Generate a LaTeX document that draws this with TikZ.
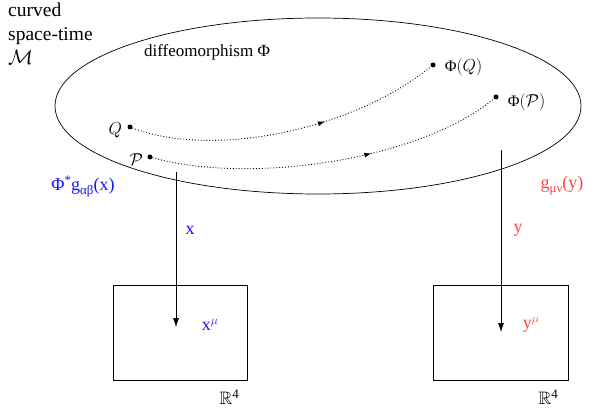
\documentclass[tikz,border=0pt]{standalone}
\usepackage{amsmath}
\usepackage{amssymb}
\usepackage{fontspec}
\setmainfont{Liberation Serif}
\usetikzlibrary{decorations.markings,arrows.meta}
\definecolor{myblue}{RGB}{20,20,255}
\definecolor{myred}{RGB}{255,70,70}
\newcommand{\mysub}[1]{\raisebox{-4pt}{\fontsize{13}{13}\selectfont #1}}
\newcommand{\mysup}[1]{\raisebox{6pt}{\fontsize{13}{13}\selectfont #1}}
\tikzset{
  pt/.style={circle,fill=black,inner sep=0pt,minimum size=5pt},
  lbl/.style={inner sep=1pt,font=\fontsize{16}{19}\selectfont},
  clbl/.style={inner sep=1pt,font=\fontsize{18}{21}\selectfont},
  mapline/.style={-{Latex[length=9pt,width=6pt]},line width=0.6pt},
  flow/.style={dotted,line width=0.9pt,postaction={decorate},
    decoration={markings,mark=at position 0.62 with {\arrow{Latex[length=7pt,width=5pt]}}}},
  box/.style={draw,line width=0.6pt}
}
\begin{document}
\begin{tikzpicture}[x=1pt,y=-1pt]
\useasboundingbox (0,0) rectangle (599,409);
% manifold
\draw[line width=0.7pt] (318,106) ellipse [x radius=263, y radius=88];
\node[anchor=north west,align=left,inner sep=0pt,font=\fontsize{19.5}{24}\selectfont] (title) at (8,3) {curved\\space-time\\$\mathcal{M}$};
\node[lbl,font=\fontsize{17}{20}\selectfont] (diff) at (207,52) {diffeomorphism Φ};
% points
\node[pt] (Q) at (130,127) {};
\node[pt] (P) at (150,157) {};
\node[pt] (PQ) at (433,65) {};
\node[pt] (PP) at (496,97) {};
\node[lbl,anchor=east] (Ql) at (Q.west) [xshift=-4pt,yshift=-3pt] {$Q$};
\node[lbl,anchor=east] (Pl) at (P.west) [xshift=-3pt,yshift=-3pt] {$\mathcal{P}$};
\node[lbl,anchor=west] (PQl) at (PQ.east) [xshift=8pt,yshift=-2pt] {Φ$(Q)$};
\node[lbl,anchor=west] (PPl) at (PP.east) [xshift=8pt,yshift=-5pt] {Φ$(\mathcal{P})$};
\draw[flow] (Q) .. controls (210,158) and (350,132) .. (PQ);
\draw[flow] (P) .. controls (250,185) and (420,160) .. (PP);
% charts
\node[box,minimum width=134pt,minimum height=95pt] (B1) at (180,332.5) {};
\node[box,minimum width=135pt,minimum height=95pt] (B2) at (500.5,332.5) {};
\coordinate (a1) at (176,172);
\coordinate (a1e) at (176,327);
\coordinate (a2) at (501,150);
\coordinate (a2e) at (501,332);
\draw[mapline] (a1) -- (a1e);
\draw[mapline] (a2) -- (a2e);
\node[clbl,text=myblue] (x) at (190,230) {x};
\node[clbl,text=myred] (y) at (518,230) {y};
\node[clbl,text=myblue] (g1) at (83,187) {Φ\mysup{*}g\mysub{αβ}(x)};
\node[clbl,text=myred] (g2) at (562,186) {g\mysub{μν}(y)};
\node[clbl,text=myblue] (xm) at (210,325) {x\mysup{$\mu$}};
\node[clbl,text=myred] (ym) at (531,325) {y\mysup{$\mu$}};
\node[clbl] (R1) at (229,397) {$\mathbb{R}$\mysup{4}};
\node[clbl] (R2) at (548,397) {$\mathbb{R}$\mysup{4}};
\end{tikzpicture}
\end{document}
